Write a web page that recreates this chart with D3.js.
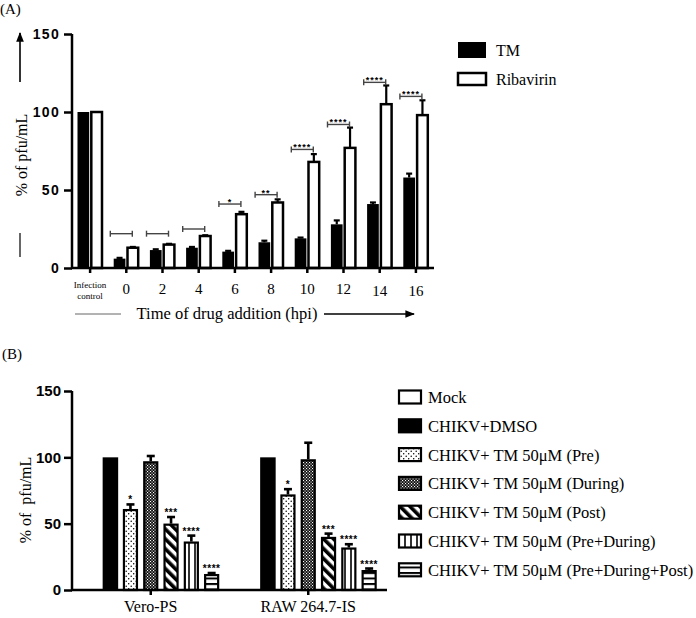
<!DOCTYPE html>
<html><head><meta charset="utf-8">
<script src="https://cdn.jsdelivr.net/npm/d3@7"></script>
<style>body{margin:0;background:#fff}svg{display:block}</style>
</head><body>
<svg id="c" width="696" height="618"></svg>
<script>
// ---------- Panel A data ----------
const catsA = ["Infection control","0","2","4","6","8","10","12","14","16"];
const seriesA = ["TM","Ribavirin"];
const tmVals = [100, 6, 11.5, 13, 10.5, 16.5, 19, 28, 41, 58];
const tmErr  = [0, 0.5, 0.5, 0.5, 0.5, 1, 0.5, 2.5, 1, 2.5];
const ribVals = [100, 13, 15, 20.5, 34.5, 42, 68, 77, 105, 98];
const ribErr  = [0, 0.5, 0.5, 0.5, 1.5, 2, 5, 13, 12, 9.5];
const bracketA = [null, 22, 22, 25, 41, 47, 76, 92, 119, 110];
const starsA = ["", "", "", "", "*", "**", "****", "****", "****", "****"];
const ticksA = [0, 50, 100, 150];

// ---------- Panel B data ----------
const catsB = ["Vero-PS","RAW 264.7-IS"];
const groupsB = ["Mock","CHIKV+DMSO","CHIKV+ TM 50μM (Pre)","CHIKV+ TM 50μM (During)","CHIKV+ TM 50μM (Post)","CHIKV+ TM 50μM (Pre+During)","CHIKV+ TM 50μM (Pre+During+Post)"];
const veroVals = [0, 100, 61, 97, 50, 36.5, 12];
const veroErr  = [0, 0, 3.5, 4, 5, 4.5, 0.8];
const rawVals  = [0, 100, 72, 98.5, 40, 32, 15];
const rawErr   = [0, 0, 4, 12.5, 2.5, 2.5, 1.2];
const starsB = ["", "", "*", "", "***", "****", "****"];
const ticksB = [0, 50, 100, 150];

const svg = d3.select("#c");
const serif = "Liberation Serif, Times New Roman, serif";
const sans = "Liberation Sans, Arial, sans-serif";

// patterns
const defs = svg.append("defs");
const pDots = defs.append("pattern").attr("id","pDots").attr("patternUnits","userSpaceOnUse").attr("width",5).attr("height",5);
pDots.append("rect").attr("width",5).attr("height",5).attr("fill","#fff");
pDots.append("circle").attr("cx",1.2).attr("cy",1.2).attr("r",0.75).attr("fill","#000");
pDots.append("circle").attr("cx",3.7).attr("cy",3.7).attr("r",0.75).attr("fill","#000");
const pChk = defs.append("pattern").attr("id","pChk").attr("patternUnits","userSpaceOnUse").attr("width",3).attr("height",3);
pChk.append("rect").attr("width",3).attr("height",3).attr("fill","#111");
pChk.append("rect").attr("x",0).attr("y",0).attr("width",1.1).attr("height",1.1).attr("fill","#fff");
pChk.append("rect").attr("x",1.5).attr("y",1.5).attr("width",1.1).attr("height",1.1).attr("fill","#fff");
const pDiag = defs.append("pattern").attr("id","pDiag").attr("patternUnits","userSpaceOnUse").attr("width",7).attr("height",7).attr("patternTransform","rotate(-45)");
pDiag.append("rect").attr("width",7).attr("height",7).attr("fill","#fff");
pDiag.append("rect").attr("width",3.6).attr("height",7).attr("fill","#000");
const pVert = defs.append("pattern").attr("id","pVert").attr("patternUnits","userSpaceOnUse").attr("width",6).attr("height",6);
pVert.append("rect").attr("width",6).attr("height",6).attr("fill","#fff");
pVert.append("rect").attr("x",2.2).attr("width",1.6).attr("height",6).attr("fill","#000");
const pHor = defs.append("pattern").attr("id","pHor").attr("patternUnits","userSpaceOnUse").attr("width",6).attr("height",5.5);
pHor.append("rect").attr("width",6).attr("height",5.5).attr("fill","#fff");
pHor.append("rect").attr("y",0).attr("width",6).attr("height",2).attr("fill","#000");
const fillsB = ["#fff","#000","url(#pDots)","url(#pChk)","url(#pDiag)","url(#pVert)","url(#pHor)"];

// ================= Panel A =================
const yA = d3.scaleLinear().domain([0,150]).range([268,34]);
const xA = d3.scaleBand().domain(catsA).range([72,434]);
const subA = d3.scaleBand().domain(seriesA).range([5.5,30.5]).paddingInner(0.12);

svg.append("text").attr("x",0).attr("y",14).attr("font-family",serif).attr("font-size",15).text("(A)");

const gA = svg.append("g");
catsA.forEach((c,i)=>{
  const x0 = xA(c);
  gA.append("rect").attr("x",x0+subA("TM")).attr("y",yA(tmVals[i])).attr("width",subA.bandwidth()).attr("height",yA(0)-yA(tmVals[i])).attr("fill","#000");
  gA.append("rect").attr("x",x0+subA("Ribavirin")+0.5).attr("y",yA(ribVals[i])).attr("width",subA.bandwidth()-1).attr("height",yA(0)-yA(ribVals[i])).attr("fill","#fff").attr("stroke","#000").attr("stroke-width",2.5);
  [[ "TM", tmVals[i], tmErr[i]],["Ribavirin", ribVals[i], ribErr[i]]].forEach(([s,v,e])=>{
    if(e<=0) return;
    const cx = x0+subA(s)+subA.bandwidth()/2;
    gA.append("line").attr("x1",cx).attr("x2",cx).attr("y1",yA(v)).attr("y2",yA(v+e)).attr("stroke","#000").attr("stroke-width",2.2);
    gA.append("line").attr("x1",cx-3).attr("x2",cx+3).attr("y1",yA(v+e)).attr("y2",yA(v+e)).attr("stroke","#000").attr("stroke-width",2.2);
  });
  if(bracketA[i]!==null){
    const c0 = x0+xA.bandwidth()/2;
    const by = yA(bracketA[i]);
    const bx1 = c0-16, bx2 = c0+6;
    gA.append("line").attr("x1",bx1).attr("x2",bx2).attr("y1",by).attr("y2",by).attr("stroke","#444").attr("stroke-width",1.4);
    [bx1,bx2].forEach(bx=>gA.append("line").attr("x1",bx).attr("x2",bx).attr("y1",by-3).attr("y2",by+3).attr("stroke","#444").attr("stroke-width",1.4));
    if(starsA[i]) gA.append("text").attr("x",(bx1+bx2)/2).attr("y",by+1).attr("text-anchor","middle").attr("font-family",sans).attr("font-weight","bold").attr("font-size",9).attr("letter-spacing",1).text(starsA[i]);
  }
});

const axYA = d3.axisLeft(yA).tickValues(ticksA).tickSize(8).tickPadding(4);
const gyA = svg.append("g").attr("transform","translate(72,0)").call(axYA);
gyA.select(".domain").attr("stroke-width",2.5).attr("d","M0,"+yA(150)+"V"+yA(0));
gyA.selectAll(".tick line").attr("stroke-width",2.5);
gyA.selectAll(".tick text").attr("font-family",sans).attr("font-weight","bold").attr("font-size",14).attr("letter-spacing",1.3).attr("fill","#000");

const axXA = d3.axisBottom(xA).tickSize(5).tickFormat("");
const gxA = svg.append("g").attr("transform","translate(0,268)").call(axXA);
gxA.select(".domain").attr("stroke-width",2.5).attr("d","M71,0H434");
gxA.selectAll(".tick line").attr("stroke-width",2.5);
catsA.forEach((c,i)=>{
  const cx = xA(c)+xA.bandwidth()/2;
  if(i===0){
    svg.append("text").attr("x",cx).attr("y",288).attr("text-anchor","middle").attr("font-family",serif).attr("font-size",9).text("Infection");
    svg.append("text").attr("x",cx).attr("y",299).attr("text-anchor","middle").attr("font-family",serif).attr("font-size",9).text("control");
  } else {
    svg.append("text").attr("x",cx).attr("y",i>=8?296:294).attr("text-anchor","middle").attr("font-family",serif).attr("font-size",15).text(c);
  }
});
svg.append("text").attr("x",227).attr("y",319).attr("text-anchor","middle").attr("font-family",serif).attr("font-size",16.5).text("Time of drug addition (hpi)");
svg.append("line").attr("x1",75).attr("x2",121).attr("y1",314).attr("y2",314).attr("stroke","#666").attr("stroke-width",1);
defs.append("marker").attr("id","arr").attr("viewBox","0 0 10 10").attr("refX",9).attr("refY",5).attr("markerWidth",6).attr("markerHeight",6).attr("orient","auto")
  .append("path").attr("d","M0,1L10,5L0,9z").attr("fill","#000");
svg.append("line").attr("x1",324).attr("x2",414).attr("y1",314).attr("y2",314).attr("stroke","#000").attr("stroke-width",1.6).attr("marker-end","url(#arr)");
svg.append("text").attr("transform","translate(27,155) rotate(-90)").attr("text-anchor","middle").attr("font-family",serif).attr("font-size",16).text("% of pfu/mL");
svg.append("line").attr("x1",20).attr("x2",20).attr("y1",82).attr("y2",33).attr("stroke","#000").attr("stroke-width",1.6).attr("marker-end","url(#arr)");
svg.append("line").attr("x1",20).attr("x2",20).attr("y1",233).attr("y2",257).attr("stroke","#000").attr("stroke-width",1.2);

const legA = svg.append("g");
seriesA.forEach((s,i)=>{
  const y = 42 + i*31;
  legA.append("rect").attr("x",458).attr("y",y).attr("width",28).attr("height",i===0?16:12).attr("fill",i===0?"#000":"#fff").attr("stroke","#000").attr("stroke-width",i===0?0:2.5);
  legA.append("text").attr("x",496).attr("y",y+(i===0?14:12)).attr("font-family",serif).attr("font-size",16).text(s);
});

// ================= Panel B =================
svg.append("text").attr("x",2).attr("y",359).attr("font-family",serif).attr("font-size",15).text("(B)");
const yB = d3.scaleLinear().domain([0,150]).range([590,391]);
const xB = d3.scaleBand().domain(catsB).range([72,387]);
const subB = d3.scaleBand().domain(groupsB).range([-68.4,68.4]).paddingInner(0.26);
const gB = svg.append("g");
[[veroVals,veroErr],[rawVals,rawErr]].forEach(([vals,errs],ci)=>{
  const c0 = xB(catsB[ci])+xB.bandwidth()/2;
  groupsB.forEach((g,gi)=>{
    const v = vals[gi];
    if(v<=0) return;
    const bx = c0+subB(g);
    if(gi===1){
      gB.append("rect").attr("x",bx).attr("y",yB(v)).attr("width",subB.bandwidth()+0.5).attr("height",yB(0)-yB(v)).attr("fill","#000");
    } else {
      gB.append("rect").attr("x",bx+1).attr("y",yB(v)+1).attr("width",subB.bandwidth()-2).attr("height",yB(0)-yB(v)-1)
        .attr("fill",fillsB[gi]).attr("stroke","#000").attr("stroke-width",2.2);
    }
    const cx = bx+subB.bandwidth()/2;
    const e = errs[gi];
    let topY = yB(v);
    if(e>0){
      topY = yB(v+e);
      gB.append("line").attr("x1",cx).attr("x2",cx).attr("y1",yB(v)).attr("y2",topY).attr("stroke","#000").attr("stroke-width",2.6);
      gB.append("line").attr("x1",cx-4).attr("x2",cx+4).attr("y1",topY).attr("y2",topY).attr("stroke","#000").attr("stroke-width",2.6);
    }
    if(starsB[gi]) gB.append("text").attr("x",cx).attr("y",topY-1).attr("text-anchor","middle").attr("font-family",sans).attr("font-weight","bold").attr("font-size",10).attr("letter-spacing",0.5).text(starsB[gi]);
  });
});
const axYB = d3.axisLeft(yB).tickValues(ticksB).tickSize(8).tickPadding(3);
const gyB = svg.append("g").attr("transform","translate(72,0)").call(axYB);
gyB.select(".domain").attr("stroke-width",2.5).attr("d","M0,"+yB(150)+"V"+yB(0));
gyB.selectAll(".tick line").attr("stroke-width",2.5);
gyB.selectAll(".tick text").attr("font-family",sans).attr("font-weight","bold").attr("font-size",15).attr("fill","#000");
const axXB = d3.axisBottom(xB).tickSize(5).tickPadding(6);
const gxB = svg.append("g").attr("transform","translate(0,590)").call(axXB);
gxB.select(".domain").attr("stroke-width",2.5).attr("d","M71,0H387");
gxB.selectAll(".tick line").attr("stroke-width",2.5);
gxB.selectAll(".tick text").attr("font-family",serif).attr("font-size",16).attr("fill","#000");
svg.append("text").attr("transform","translate(31,500) rotate(-90)").attr("text-anchor","middle").attr("font-family",serif).attr("font-size",16).style("white-space","pre").text("% of  pfu/mL");

const legB = svg.append("g");
groupsB.forEach((g,i)=>{
  const cy = 397 + i*28.8;
  legB.append("rect").attr("x",399).attr("y",cy-6.5).attr("width",22).attr("height",13).attr("fill",fillsB[i]).attr("stroke","#000").attr("stroke-width",2.2);
  legB.append("text").attr("x",428).attr("y",cy+6).attr("font-family",serif).attr("font-size",16.5).text(g);
});
</script>
</body></html>
